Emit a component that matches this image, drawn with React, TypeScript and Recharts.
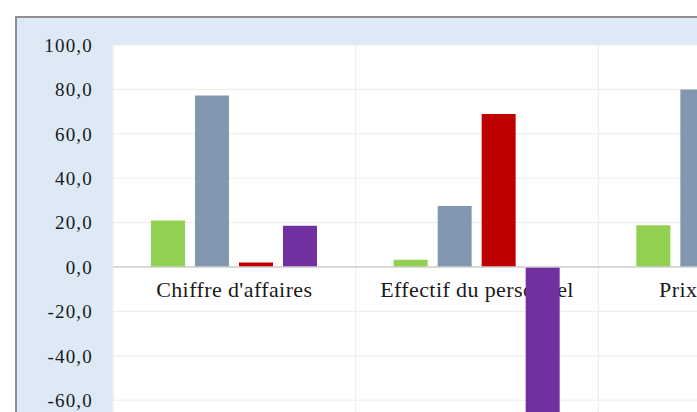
import React from "react";
import { BarChart, Bar, XAxis, YAxis, CartesianGrid, ReferenceLine, ReferenceDot } from "recharts";

const categories = ["Chiffre d'affaires", "Effectif du personnel", "Prix de vente"];
const seriesA = [21.0, 3.3, 18.8];
const seriesB = [77.2, 27.5, 80.0];
const seriesC = [2.0, 68.9, 45.0];
const seriesD = [18.6, -80.0, -20.0];
const yTicks = [-100, -80, -60, -40, -20, 0, 20, 40, 60, 80, 100];

const data = categories.map((name, i) => ({
  name,
  a: seriesA[i],
  b: seriesB[i],
  c: seriesC[i],
  d: seriesD[i],
}));

const FONT = "'Liberation Serif', 'Times New Roman', serif";
const fmt = (v: number) => v.toFixed(1).replace(".", ",");

const makeLabelShape = (name: string) => (props: any) => (
  <text
    x={props.cx}
    y={(props.cy ?? 0) + 30}
    textAnchor="middle"
    fontFamily={FONT}
    fontSize={22}
    letterSpacing={0.4}
    fill="#1a1a1a"
  >
    {name}
  </text>
);

export default function App() {
  const W = 854;
  const H = 498;
  return (
    <div style={{ position: "fixed", left: 0, top: 0, width: 697, height: 412, overflow: "hidden", background: "#ffffff" }}>
      <div
        style={{
          position: "absolute",
          left: 15,
          top: 16,
          width: W,
          height: H,
          background: "#dde9f5",
          border: "2px solid #8f8f8f",
        }}
      >
        <BarChart width={W} height={H} data={data} margin={{ top: 27, right: 30, bottom: 27, left: 0 }} barSize={34} barGap={10}>
          <CartesianGrid
            fill="#ffffff"
            stroke="#ececec"
            verticalCoordinatesGenerator={({ offset }: any) =>
              Array.from({ length: categories.length + 1 }, (_, i) => offset.left + (i * offset.width) / categories.length)
            }
          />
          <XAxis dataKey="name" hide />
          <YAxis
            domain={[-100, 100]}
            ticks={yTicks}
            width={96}
            axisLine={false}
            tickLine={false}
            tickSize={0}
            tickMargin={20}
            interval={0}
            tickFormatter={fmt}
            tick={{ fontFamily: FONT, fontSize: 19, fill: "#1a1a1a", letterSpacing: 1.2 }}
          />
          <ReferenceLine y={0} stroke="#cfcfcf" strokeWidth={1.5} />
          {categories.map((c) => (
            <ReferenceDot key={c} x={c} y={0} r={0} zIndex={250} shape={makeLabelShape(c)} />
          ))}
          <Bar dataKey="a" fill="#92d050" isAnimationActive={false} />
          <Bar dataKey="b" fill="#8497b0" isAnimationActive={false} />
          <Bar dataKey="c" fill="#c00000" isAnimationActive={false} />
          <Bar dataKey="d" fill="#7030a0" isAnimationActive={false} />
        </BarChart>
      </div>
    </div>
  );
}
